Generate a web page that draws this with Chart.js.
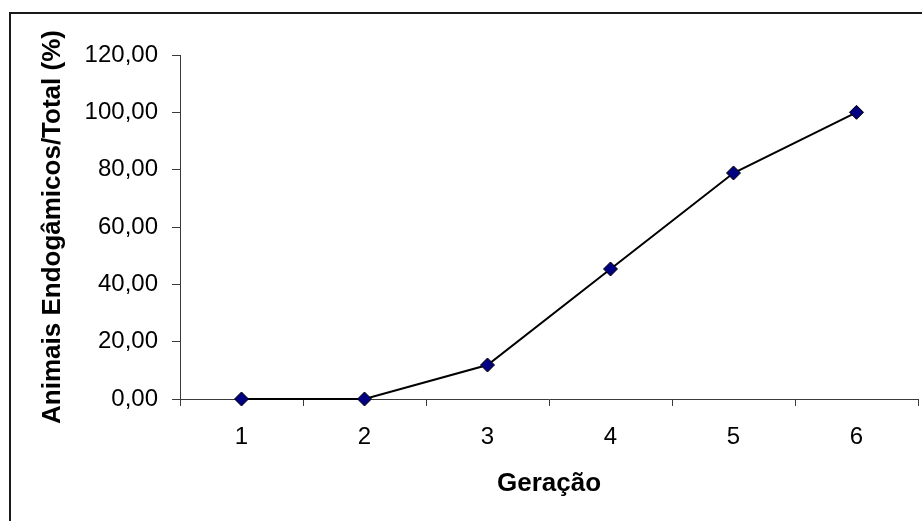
<!DOCTYPE html>
<html>
<head>
<meta charset="utf-8">
<script src="https://cdn.jsdelivr.net/npm/chart.js@4/dist/chart.umd.min.js"></script>
<style>
  html, body { margin: 0; padding: 0; background: #ffffff; }
  #wrap { width: 922px; height: 521px; }
</style>
</head>
<body>
<div id="wrap"><canvas id="chart" width="922" height="521"></canvas></div>
<script>
// Generations on the x axis
const geracoes = ['1', '2', '3', '4', '5', '6'];
// Share of inbred animals in the herd, per generation (%)
const endogamicos = [0, 0, 11.86, 45.35, 78.84, 100];
// Value axis ticks
const yTicks = [0, 20, 40, 60, 80, 100, 120];

const fmt = v => v.toFixed(2).replace('.', ',');

// Markers may sit on the plot edge; the layout padding already leaves room for them
Chart.registry.getController('line').prototype.getMaxOverflow = function () { return 0; };

// Frame round the whole chart
const framePlugin = {
  id: 'frame',
  beforeDraw(chart) {
    const ctx = chart.ctx;
    ctx.save();
    ctx.fillStyle = '#ffffff';
    ctx.fillRect(0, 0, chart.width, chart.height);
    ctx.strokeStyle = '#1a1a1a';
    ctx.lineWidth = 2;
    ctx.strokeRect(10, 13, chart.width + 20, chart.height + 20);
    ctx.restore();
  }
};

const axisColor = '#3a3a3a';

new Chart(document.getElementById('chart'), {
  type: 'line',
  data: {
    labels: geracoes,
    datasets: [{
      data: endogamicos,
      borderColor: '#000000',
      borderWidth: 2,
      tension: 0,
      pointStyle: 'rectRot',
      pointRadius: 7,
      pointHoverRadius: 7,
      pointBackgroundColor: '#000080',
      pointBorderColor: '#000000',
      pointBorderWidth: 1,
      clip: false
    }]
  },
  options: {
    responsive: false,
    animation: false,
    devicePixelRatio: 1,
    layout: { padding: { top: 55, right: 4, bottom: 0, left: 0 } },
    plugins: {
      legend: { display: false },
      tooltip: { enabled: false }
    },
    scales: {
      x: {
        offset: true,
        grid: {
          offset: true,
          drawOnChartArea: false,
          drawTicks: true,
          tickLength: 7,
          color: axisColor,
          lineWidth: 1
        },
        border: { display: true, color: axisColor, width: 1 },
        ticks: {
          color: '#000000',
          padding: 17,
          maxRotation: 0,
          font: { family: '"Liberation Sans", Arial, sans-serif', size: 24 }
        },
        title: {
          display: true,
          text: 'Geração',
          color: '#000000',
          padding: { top: 0, bottom: 22 },
          font: { family: '"Liberation Sans", Arial, sans-serif', size: 26, weight: 'bold' }
        },
        afterFit(scale) {
          scale.height = 122;
          scale.paddingLeft = 0;
          scale.paddingRight = 0;
        }
      },
      y: {
        min: 0,
        max: 120,
        afterBuildTicks(scale) { scale.ticks = yTicks.map(v => ({ value: v })); },
        grid: {
          drawOnChartArea: false,
          drawTicks: true,
          tickLength: 8,
          color: axisColor,
          lineWidth: 1
        },
        border: { display: true, color: axisColor, width: 1 },
        ticks: {
          color: '#000000',
          padding: 14,
          callback: v => fmt(v),
          font: { family: '"Liberation Sans", Arial, sans-serif', size: 24 }
        },
        title: {
          display: true,
          text: 'Animais Endogâmicos/Total (%)',
          color: '#000000',
          padding: { top: 37, bottom: 0 },
          font: { family: '"Liberation Sans", Arial, sans-serif', size: 26, weight: 'bold' }
        },
        afterFit(scale) {
          scale.width = 180;
          scale.paddingTop = 0;
          scale.paddingBottom = 0;
        }
      }
    }
  },
  plugins: [framePlugin]
});
</script>
</body>
</html>
